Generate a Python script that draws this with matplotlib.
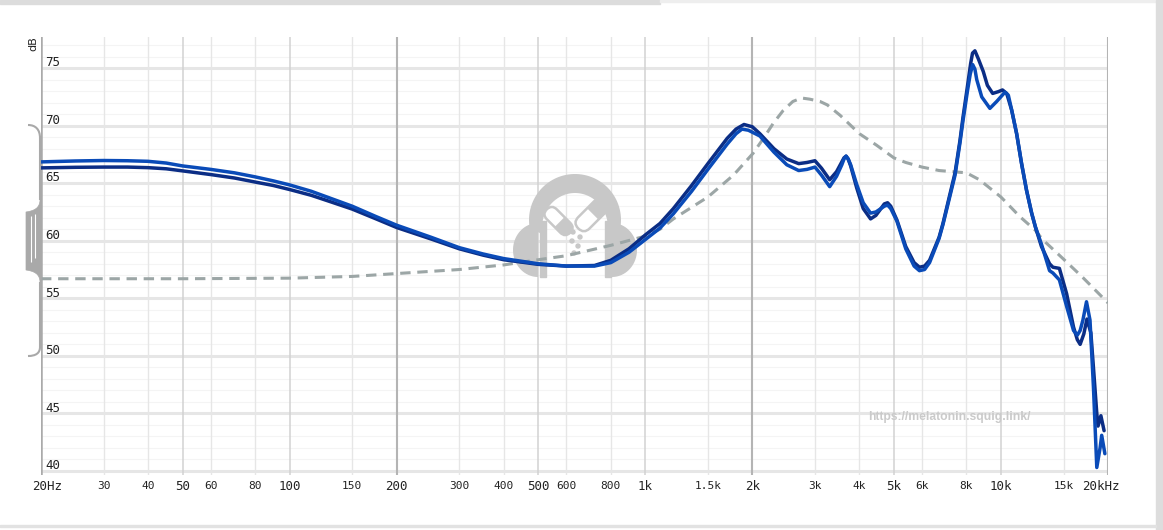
import numpy as np
import matplotlib
matplotlib.use('Agg')
import matplotlib.pyplot as plt
import matplotlib.transforms as mtransforms
from matplotlib.patches import Rectangle, Circle, PathPatch, FancyBboxPatch
from matplotlib.path import Path

W, H = 1163, 530

# frequency response (Hz, dB)
freq_dark = [20, 25, 30, 35, 40, 45, 50, 60, 70, 80,
             90, 100, 115, 130, 150, 175, 200, 250, 300, 350,
             400, 500, 600, 720, 800, 900, 1000, 1100, 1200, 1350,
             1500, 1700, 1800, 1895, 2000, 2100, 2300, 2500, 2700, 2850,
             3000, 3130, 3300, 3450, 3570, 3620, 3670, 3720, 3780, 3930,
             4100, 4300, 4450, 4550, 4700, 4800, 4900, 5100, 5400, 5700,
             5900, 6100, 6300, 6700, 6870, 7430, 7670, 7820, 8050, 8220,
             8320, 8450, 8640, 8920, 9160, 9480, 9830, 10100, 10380, 10720,
             11070, 11430, 11800, 12200, 12500, 13000, 13700, 14000, 14600, 15300,
             16000, 16400, 16700, 17100, 17450, 17900, 18200, 18600, 18750, 19100,
             19500]
spl_dark = [66.33, 66.38, 66.4, 66.4, 66.35, 66.25, 66.07, 65.75, 65.45, 65.1,
            64.8, 64.45, 63.95, 63.4, 62.75, 61.9, 61.15, 60.15, 59.3, 58.75,
            58.35, 57.95, 57.8, 57.85, 58.3, 59.3, 60.5, 61.5, 62.8, 64.8,
            66.7, 68.9, 69.7, 70.1, 69.9, 69.3, 68.0, 67.1, 66.7, 66.8,
            66.95, 66.3, 65.3, 66.0, 66.85, 67.2, 67.35, 67.1, 66.5, 64.6,
            62.8, 61.9, 62.2, 62.6, 63.2, 63.3, 63.0, 61.8, 59.5, 58.1,
            57.7, 57.8, 58.3, 60.3, 61.5, 65.9, 68.7, 70.7, 73.4, 75.4,
            76.3, 76.5, 75.8, 74.7, 73.5, 72.8, 72.95, 73.1, 72.8, 71.35,
            69.3, 66.7, 64.4, 62.4, 61.2, 59.5, 58.0, 57.7, 57.6, 55.4,
            52.5, 51.4, 51.0, 51.9, 53.2, 52.0, 49.0, 45.0, 43.9, 44.8,
            43.5]

freq_blue = [20, 25, 30, 35, 40, 45, 50, 60, 70, 80,
             90, 100, 115, 130, 150, 175, 200, 250, 300, 350,
             400, 500, 600, 720, 800, 900, 1000, 1100, 1200, 1350,
             1500, 1700, 1800, 1870, 1950, 2100, 2300, 2500, 2700, 2850,
             3000, 3130, 3300, 3450, 3570, 3620, 3670, 3720, 3780, 3930,
             4100, 4300, 4450, 4550, 4700, 4800, 4900, 5100, 5400, 5700,
             5900, 6100, 6300, 6700, 6870, 7430, 7670, 7820, 8050, 8200,
             8330, 8450, 8550, 8830, 9310, 9730, 10260, 10490, 10720, 11070,
             11430, 11800, 12200, 12500, 13000, 13700, 14000, 14600, 15300, 16000,
             16400, 16700, 17000, 17400, 17800, 18200, 18600, 19000, 19200, 19600]
spl_blue = [66.85, 66.93, 66.97, 66.95, 66.9, 66.75, 66.5, 66.2, 65.9, 65.55,
            65.2, 64.85, 64.3, 63.7, 63.0, 62.1, 61.35, 60.3, 59.4, 58.85,
            58.45, 58.0, 57.8, 57.8, 58.1, 59.0, 60.1, 61.1, 62.35, 64.3,
            66.2, 68.4, 69.3, 69.7, 69.6, 69.1, 67.7, 66.6, 66.1, 66.2,
            66.4, 65.7, 64.7, 65.6, 66.6, 67.1, 67.35, 67.1, 66.6, 64.9,
            63.3, 62.4, 62.5, 62.7, 63.0, 63.1, 62.8, 61.7, 59.3, 57.8,
            57.4, 57.5, 58.1, 60.2, 61.4, 65.7, 68.5, 70.4, 73.0, 74.5,
            75.3, 74.9, 74.0, 72.5, 71.5, 72.1, 72.9, 72.65, 71.35, 69.3,
            66.7, 64.4, 62.4, 61.2, 59.7, 57.4, 57.2, 56.6, 54.3, 52.2,
            51.8, 52.2, 53.1, 54.7, 53.1, 47.3, 40.3, 42.0, 43.1, 41.5]

freq_target = [20, 50, 100, 150, 200, 300, 400, 500, 600, 800,
               1000, 1100, 1200, 1500, 1770, 2010, 2150, 2290, 2440, 2600,
               2750, 2900, 3100, 3250, 3530, 4000, 4470, 5000, 5400, 6000,
               6700, 8000, 8700, 10000, 11300, 12500, 13100, 15000, 17000, 20000]
spl_target = [56.7, 56.7, 56.75, 56.9, 57.15, 57.5, 57.9, 58.35, 58.7, 59.6,
              60.4, 61.0, 61.9, 63.8, 65.7, 67.6, 68.9, 70.2, 71.3, 72.1,
              72.4, 72.3, 72.1, 71.8, 70.9, 69.3, 68.3, 67.2, 66.8, 66.4,
              66.1, 65.9, 65.3, 63.8, 62.1, 60.9, 60.1, 58.4, 56.8, 54.6]

x_ticks = [20, 30, 40, 50, 60, 80, 100, 150, 200, 300, 400, 500, 600, 800, 1000,
           1500, 2000, 3000, 4000, 5000, 6000, 8000, 10000, 15000, 20000]
x_labels = ['20Hz', '30', '40', '50', '60', '80', '100', '150', '200', '300', '400',
            '500', '600', '800', '1k', '1.5k', '2k', '3k', '4k', '5k', '6k', '8k',
            '10k', '15k', '20kHz']
y_ticks = [40, 45, 50, 55, 60, 65, 70, 75]

dark_lines = [20, 200, 2000, 20000]
mid_lines = [50, 100, 500, 1000, 5000, 10000]

fig = plt.figure(figsize=(W / 100, H / 100), dpi=100)
# pixel coordinates, origin at the top-left corner
px = mtransforms.Affine2D().scale(1, -1).translate(0, H)

ax = fig.add_axes([41 / W, (H - 475) / H, (1108 - 41) / W, (475 - 37) / H])
ax.set_xscale('log')
ax.set_xlim(20, 20000)
ax.set_ylim(39.65, 77.7)
ax.set_facecolor('none')
for s in ax.spines.values():
    s.set_visible(False)
ax.set_xticks([])
ax.set_yticks([])
ax.minorticks_off()

# grid
for v in range(40, 78):
    if v % 5 == 0:
        ax.axhline(v, color='#e6e6e6', lw=2.2, zorder=0.5)
    else:
        ax.axhline(v, color='#f4f4f4', lw=0.8, zorder=0.5)
for f in x_ticks:
    if f in dark_lines:
        c, lw = '#b4b4b4', 1.5
    elif f in mid_lines:
        c, lw = '#d2d2d2', 1.1
    else:
        c, lw = '#e6e6e6', 1.0
    ax.axvline(f, color=c, lw=lw, zorder=0.6)
ax.axvline(20, color='#aaaaaa', lw=1.8, zorder=0.7)

# watermark logo (headphones with two pills)
logo = '#c8c8c8'
t = np.linspace(np.pi - 0.18, 2 * np.pi + 0.18, 60)
outer = np.column_stack([575 + 46 * np.cos(t), 220 + 46 * np.sin(t)])
t2 = t[::-1]
inner = np.column_stack([575 + 33 * np.cos(t2), 228 + 35 * np.sin(t2)])
band = np.vstack([outer, inner, outer[:1]])
ax.add_patch(PathPatch(Path(band), facecolor=logo, edgecolor='none',
                       transform=px, zorder=1))
for cx, a0 in [(538, np.pi / 2), (612, -np.pi / 2)]:
    tc = np.linspace(a0, a0 + np.pi, 40)
    cup = np.column_stack([cx + 25 * np.cos(tc), 250 + 27 * np.sin(tc)])
    cup = np.vstack([cup, cup[:1]])
    ax.add_patch(PathPatch(Path(cup), facecolor=logo, edgecolor='none',
                           transform=px, zorder=1))
ax.add_patch(Rectangle((539.5, 221), 6, 56, color=logo, transform=px, zorder=1))
ax.add_patch(Rectangle((604.5, 221), 6, 56, color=logo, transform=px, zorder=1))
for cx, cy, ang, L, Wd in [(558.5, 221, 45, 33, 14), (591.7, 215, -45, 38, 16)]:
    rot = mtransforms.Affine2D().rotate_deg_around(cx, cy, ang) + px
    r = Wd / 2
    ax.add_patch(FancyBboxPatch((cx - L / 2, cy - r), L, Wd, facecolor='white',
                                edgecolor=logo, lw=1.8, transform=rot, zorder=1,
                                boxstyle='round,pad=0,rounding_size=%g' % r))
    ta = np.linspace(-np.pi / 2, np.pi / 2, 20)
    cap = np.column_stack([cx + L / 2 - r + r * np.cos(ta), cy + r * np.sin(ta)])
    half = np.vstack([[cx + 1.5, cy - r], cap, [cx + 1.5, cy + r], [cx + 1.5, cy - r]])
    ax.add_patch(PathPatch(Path(half), facecolor=logo, edgecolor='none',
                           transform=rot, zorder=1))
for dx, dy in [(573, 232), (580, 237), (572, 241), (578, 246), (574, 253)]:
    ax.add_patch(Circle((dx, dy), 2.0, color=logo, transform=px, zorder=1))
ax.text(949, 417, 'https://melatonin.squig.link/', transform=px, ha='center',
        va='center', color='#cacaca', fontsize=8.7, fontweight='bold',
        family='Liberation Sans', zorder=1)

# curves
ax.plot(freq_target, spl_target, color='#9ca6a6', lw=2.2,
        linestyle=(0, (3.4, 2.2)), zorder=3)
ax.plot(freq_dark, spl_dark, color='#0b2d85', lw=2.5, zorder=4,
        solid_joinstyle='round', solid_capstyle='round')
ax.plot(freq_blue, spl_blue, color='#0a4bb8', lw=2.5, zorder=5,
        solid_joinstyle='round', solid_capstyle='round')

# labels
mono = 'DejaVu Sans Mono'
big = ['20Hz', '50', '100', '200', '500', '1k', '2k', '5k', '10k', '20kHz']
xt = ax.get_xaxis_transform()
for f, lab in zip(x_ticks, x_labels):
    tr = xt
    if lab == '20Hz':
        tr = mtransforms.offset_copy(xt, fig=fig, x=6, units='dots')
    elif lab == '20kHz':
        tr = mtransforms.offset_copy(xt, fig=fig, x=-7, units='dots')
    ax.text(f, -11 / 438, lab, transform=tr, ha='center', va='center',
            fontsize=9 if lab in big else 8, family=mono, color='#222222',
            clip_on=False)
yt = ax.get_yaxis_transform()
for v in y_ticks:
    ax.text(4 / 1067, v + 0.15, str(v), transform=yt, ha='left', va='baseline',
            fontsize=9, family=mono, color='#222222')
fig.text(33.5 / W, 1 - 44 / H, 'dB', rotation=90, ha='center', va='center',
         fontsize=8, color='#222222')

# y-scale handle on the left
gray = '#a9a9a9'
top = Path([(28, 125), (36, 125), (40, 130), (40, 138), (40, 200)],
           [Path.MOVETO, Path.CURVE4, Path.CURVE4, Path.CURVE4, Path.LINETO])
bot = Path([(40, 282), (40, 347), (40, 353), (36, 356), (28, 356)],
           [Path.MOVETO, Path.LINETO, Path.CURVE4, Path.CURVE4, Path.CURVE4])
mid = Path([(41.5, 200), (40, 200), (40, 208), (34, 211), (26, 212), (26, 270),
            (34, 271), (40, 274), (40, 282), (41.5, 282), (41.5, 200)],
           [Path.MOVETO, Path.LINETO, Path.CURVE4, Path.CURVE4, Path.CURVE4,
            Path.LINETO, Path.CURVE4, Path.CURVE4, Path.CURVE4, Path.LINETO,
            Path.CLOSEPOLY])
for p in (top, bot):
    fig.add_artist(PathPatch(p, facecolor='none', edgecolor=gray, lw=1.5, transform=px))
fig.add_artist(PathPatch(mid, facecolor=gray, edgecolor=gray, lw=0.5, transform=px))
fig.add_artist(PathPatch(Path([(30.5, 216), (30.5, 262)]), edgecolor='white',
                         lw=0.8, transform=px))
fig.add_artist(PathPatch(Path([(34.5, 214), (34.5, 258)]), edgecolor='white',
                         lw=0.8, transform=px))

# page chrome around the graph
fig.add_artist(Rectangle((0, 0), 660, 4, color='#dcdcdc', transform=px))
fig.add_artist(Rectangle((660, 0), 496, 2, color='#eeeeee', transform=px))
fig.add_artist(Rectangle((1156, 0), 7, H, color='#dddddd', transform=px))
fig.add_artist(Rectangle((0, 525), 1156, 1.5, color='#e2e2e2', transform=px))

fig.savefig('out.png', dpi=100, facecolor='white')
